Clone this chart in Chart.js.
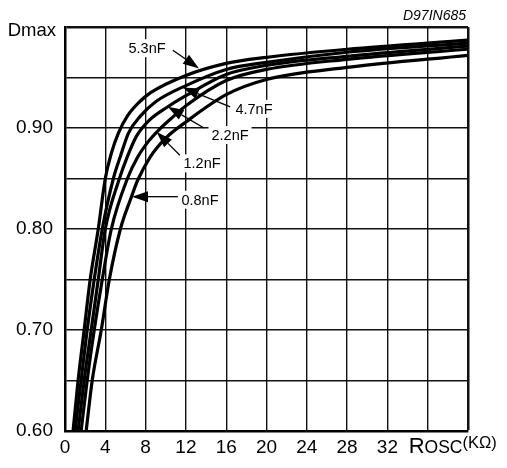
<!DOCTYPE html>
<html>
<head>
<meta charset="utf-8">
<script src="https://cdn.jsdelivr.net/npm/chart.js@4.4.1/dist/chart.umd.min.js"></script>
<style>
  body { margin: 0; background: #fff; }
</style>
</head>
<body>
<canvas id="myChart" width="507" height="468"></canvas>
<script>
const ctx = document.getElementById('myChart');
const FONT = 'Arial, "Liberation Sans", sans-serif';

// Rosc (kOhm) vs Dmax, one pair of arrays per timing capacitor
const rosc53 = [0.8, 1.3, 1.9, 2.5, 3.3, 4.0, 4.6, 5.3, 6.2, 7.3, 8.5, 12, 16, 20, 28, 40];
const dmax53 = [0.60, 0.65, 0.70, 0.75, 0.80, 0.85, 0.875, 0.895, 0.912, 0.925, 0.935, 0.952, 0.964, 0.970, 0.978, 0.987];

const rosc47 = [1.0, 1.6, 2.2, 2.9, 3.7, 4.8, 5.5, 6.3, 7.5, 9, 12, 16, 20, 28, 40];
const dmax47 = [0.60, 0.65, 0.70, 0.75, 0.80, 0.85, 0.872, 0.895, 0.912, 0.926, 0.942, 0.958, 0.965, 0.975, 0.984];

const rosc22 = [1.3, 1.9, 2.6, 3.3, 4.0, 5.4, 6.2, 7.1, 8.4, 10.2, 12, 16, 20, 28, 40];
const dmax22 = [0.60, 0.65, 0.70, 0.75, 0.80, 0.85, 0.872, 0.892, 0.908, 0.921, 0.932, 0.953, 0.962, 0.971, 0.981];

const rosc12 = [1.6, 2.2, 2.9, 3.7, 4.6, 6.2, 7.2, 8.3, 9.3, 10.6, 12, 16, 20, 28, 40];
const dmax12 = [0.60, 0.65, 0.70, 0.75, 0.80, 0.85, 0.871, 0.887, 0.898, 0.910, 0.922, 0.947, 0.958, 0.968, 0.978];

const rosc08 = [2.1, 2.7, 3.6, 4.4, 5.5, 6.6, 7.2, 8.5, 10, 12, 16, 20, 28, 40];
const dmax08 = [0.60, 0.65, 0.70, 0.75, 0.80, 0.832, 0.848, 0.872, 0.890, 0.906, 0.933, 0.948, 0.960, 0.972];

const capLabels = ['5.3nF', '4.7nF', '2.2nF', '1.2nF', '0.8nF'];
const yTickLabels = ['0.60', '0.70', '0.80', '0.90'];

// label text centre, arrow tail, arrow tip (data units)
const callouts = [
  { text: '5.3nF', tx: 8.14, ty: 0.979, ax: 10.7, ay: 0.977, bx: 13.3, by: 0.959 },
  { text: '4.7nF', tx: 18.76, ty: 0.919, ax: 16.4, ay: 0.921, bx: 11.7, by: 0.940 },
  { text: '2.2nF', tx: 16.38, ty: 0.893, ax: 13.8, ay: 0.900, bx: 10.2, by: 0.921 },
  { text: '1.2nF', tx: 13.6, ty: 0.865, ax: 11.4, ay: 0.873, bx: 9.1, by: 0.896 },
  { text: '0.8nF', tx: 13.4, ty: 0.829, ax: 11.2, ay: 0.832, bx: 6.65, by: 0.832 }
];

function pts(xs, ys) {
  return xs.map((x, i) => ({ x: x, y: ys[i] }));
}

const series = [
  pts(rosc53, dmax53), pts(rosc47, dmax47), pts(rosc22, dmax22),
  pts(rosc12, dmax12), pts(rosc08, dmax08)
];

const extras = {
  id: 'extras',
  afterDatasetsDraw(chart) {
    const c = chart.ctx;
    const xs = chart.scales.x, ys = chart.scales.y;
    c.save();
    c.font = '14.5px ' + FONT;
    c.textAlign = 'center';
    c.textBaseline = 'middle';
    callouts.forEach(a => {
      const tx = xs.getPixelForValue(a.tx), ty = ys.getPixelForValue(a.ty);
      const w = c.measureText(a.text).width;
      c.fillStyle = '#fff';
      c.fillRect(tx - w / 2 - 3, ty - 9, w + 6, 18);
      c.fillStyle = '#000';
      c.fillText(a.text, tx, ty + 1);
      // arrow
      const x1 = xs.getPixelForValue(a.ax), y1 = ys.getPixelForValue(a.ay);
      const x2 = xs.getPixelForValue(a.bx), y2 = ys.getPixelForValue(a.by);
      const ang = Math.atan2(y2 - y1, x2 - x1);
      const len = 16, half = 5.5;
      c.strokeStyle = '#000';
      c.lineWidth = 1.3;
      c.beginPath();
      c.moveTo(x1, y1);
      c.lineTo(x2 - Math.cos(ang) * len, y2 - Math.sin(ang) * len);
      c.stroke();
      c.beginPath();
      c.moveTo(x2, y2);
      c.lineTo(x2 - Math.cos(ang) * len - Math.sin(ang) * half, y2 - Math.sin(ang) * len + Math.cos(ang) * half);
      c.lineTo(x2 - Math.cos(ang) * len + Math.sin(ang) * half, y2 - Math.sin(ang) * len - Math.cos(ang) * half);
      c.closePath();
      c.fill();
    });
    c.restore();
  },
  afterDraw(chart) {
    const c = chart.ctx;
    const xs = chart.scales.x, ys = chart.scales.y;
    const area = chart.chartArea;
    c.save();
    c.fillStyle = '#000';
    c.textBaseline = 'alphabetic';
    // y axis title at the top tick
    c.font = '18.5px ' + FONT;
    c.textAlign = 'right';
    c.fillText('Dmax', area.left - 9, ys.getPixelForValue(1.0) + 9);
    // x axis title in place of the 36 tick
    c.textAlign = 'left';
    let xr = xs.getPixelForValue(36) - 19;
    const xb = area.bottom + 22;
    c.font = '22px ' + FONT;
    c.fillText('R', xr, xb);
    xr += c.measureText('R').width;
    c.font = '17.5px ' + FONT;
    c.fillText('OSC', xr, xb);
    xr += c.measureText('OSC').width;
    c.font = '16.5px ' + FONT;
    c.fillText('(KΩ)', xr, xb - 5);
    // drawing number
    c.font = 'italic 14px ' + FONT;
    c.textAlign = 'right';
    c.fillText('D97IN685', area.right - 2, 20);
    c.restore();
  }
};

new Chart(ctx, {
  type: 'line',
  data: {
    datasets: series.map((d, i) => ({
      label: capLabels[i],
      data: d,
      borderColor: '#000',
      borderWidth: 3.2,
      pointRadius: 0,
      fill: false,
      cubicInterpolationMode: 'monotone'
    }))
  },
  options: {
    responsive: false,
    animation: false,
    layout: { padding: { top: 27, right: 39, left: 0, bottom: 0 } },
    plugins: {
      legend: { display: false },
      tooltip: { enabled: false }
    },
    scales: {
      x: {
        type: 'linear',
        min: 0,
        max: 40,
        afterFit: s => { s.height = 37; },
        ticks: {
          stepSize: 4,
          maxRotation: 0,
          autoSkip: false,
          padding: 5,
          color: '#000',
          font: { family: FONT, size: 19 },
          callback: v => (v <= 32 ? String(v) : '')
        },
        grid: {
          color: '#111',
          lineWidth: c => (c.tick && c.tick.value === 40 ? 2.5 : 1.4),
          drawTicks: false
        },
        border: { display: true, color: '#000', width: 2.5 }
      },
      y: {
        min: 0.6,
        max: 1.0,
        afterFit: s => { s.width = 65; },
        ticks: {
          stepSize: 0.05,
          autoSkip: false,
          padding: 12,
          color: '#000',
          font: { family: FONT, size: 19 },
          callback: v => {
            const s = v.toFixed(2);
            return yTickLabels.includes(s) ? s : '';
          }
        },
        grid: {
          color: '#111',
          lineWidth: c => (c.tick && Math.abs(c.tick.value - 1.0) < 1e-6 ? 2.5 : 1.4),
          drawTicks: false
        },
        border: { display: true, color: '#000', width: 2.5 }
      }
    }
  },
  plugins: [extras]
});
</script>
</body>
</html>
